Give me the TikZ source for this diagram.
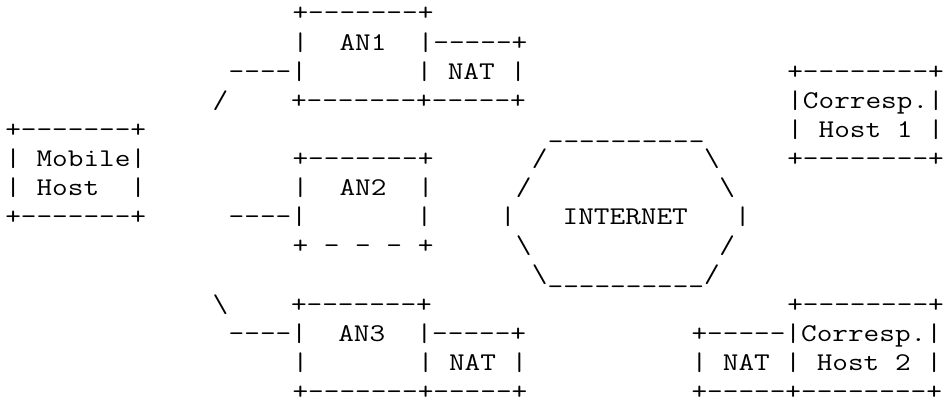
\documentclass[tikz,border=0pt]{standalone}
\usepackage{tikz}

\tikzset{
  ascii/.style={font=\fontsize{25.5}{29}\selectfont\ttfamily, inner sep=0pt,
    anchor=base west, xscale=1.192, text depth=0pt},
}

\begin{document}
\begin{tikzpicture}[x=15.96pt, y=-29.1pt]
        \useasboundingbox (-5.02pt,21pt) rectangle (944.98pt,-382pt);

        % Access network 1 with its NAT
        \node[ascii] (an1top) at (18,0) {+-------+};
        \node[ascii] (an1) at (18,1) {|\ \ AN1\ \ |-----+};
        \node[ascii] (an1nat) at (14,2) {----|\ \ \ \ \ \ \ |\ NAT\ |};
        \node[ascii] (an1bot) at (13,3) {/\ \ \ \ +-------+-----+};

        % Correspondent host 1
        \node[ascii] (ch1top) at (49,2) {+--------+};
        \node[ascii] (ch1) at (49,3) {|Corresp.|};
        \node[ascii] (ch1host) at (49,4) {|\ Host\ 1\ |};
        \node[ascii] (ch1bot) at (49,5) {+--------+};

        % Mobile host
        \node[ascii] (mhtop) at (0,4) {+-------+};
        \node[ascii] (mh) at (0,5) {|\ Mobile|};
        \node[ascii] (mhhost) at (0,6) {|\ Host\ \ |};
        \node[ascii] (mhbot) at (0,7) {+-------+};

        % Access network 2
        \node[ascii] (an2top) at (18,5) {+-------+};
        \node[ascii] (an2) at (18,6) {|\ \ AN2\ \ |};
        \node[ascii] (an2link) at (14,7) {----|\ \ \ \ \ \ \ |};
        \node[ascii] (an2bot) at (18,8) {+\ -\ -\ -\ +};

        % Internet
        \node[ascii] (nettop) at (34,4) {\_\_\_\_\_\_\_\_\_\_};
        \node[ascii] (netnw) at (33,5) {/\ \ \ \ \ \ \ \ \ \ \textbackslash};
        \node[ascii] (netw) at (32,6) {/\ \ \ \ \ \ \ \ \ \ \ \ \textbackslash};
        \node[ascii] (net) at (31,7) {|\ \ \ INTERNET\ \ \ |};
        \node[ascii] (nets) at (32,8) {\textbackslash\ \ \ \ \ \ \ \ \ \ \ \ /};
        \node[ascii] (netbot) at (33,9) {\textbackslash\_\_\_\_\_\_\_\_\_\_/};

        % Access network 3 with its NAT
        \node[ascii] (an3top) at (13,10) {\textbackslash\ \ \ \ +-------+};
        \node[ascii] (an3) at (14,11) {----|\ \ AN3\ \ |-----+};
        \node[ascii] (an3nat) at (18,12) {|\ \ \ \ \ \ \ |\ NAT\ |};
        \node[ascii] (an3bot) at (18,13) {+-------+-----+};

        % Correspondent host 2 behind a NAT
        \node[ascii] (ch2top) at (49,10) {+--------+};
        \node[ascii] (ch2) at (43,11) {+-----|Corresp.|};
        \node[ascii] (ch2host) at (43,12) {|\ NAT\ |\ Host\ 2\ |};
        \node[ascii] (ch2bot) at (43,13) {+-----+--------+};
\end{tikzpicture}
\end{document}
